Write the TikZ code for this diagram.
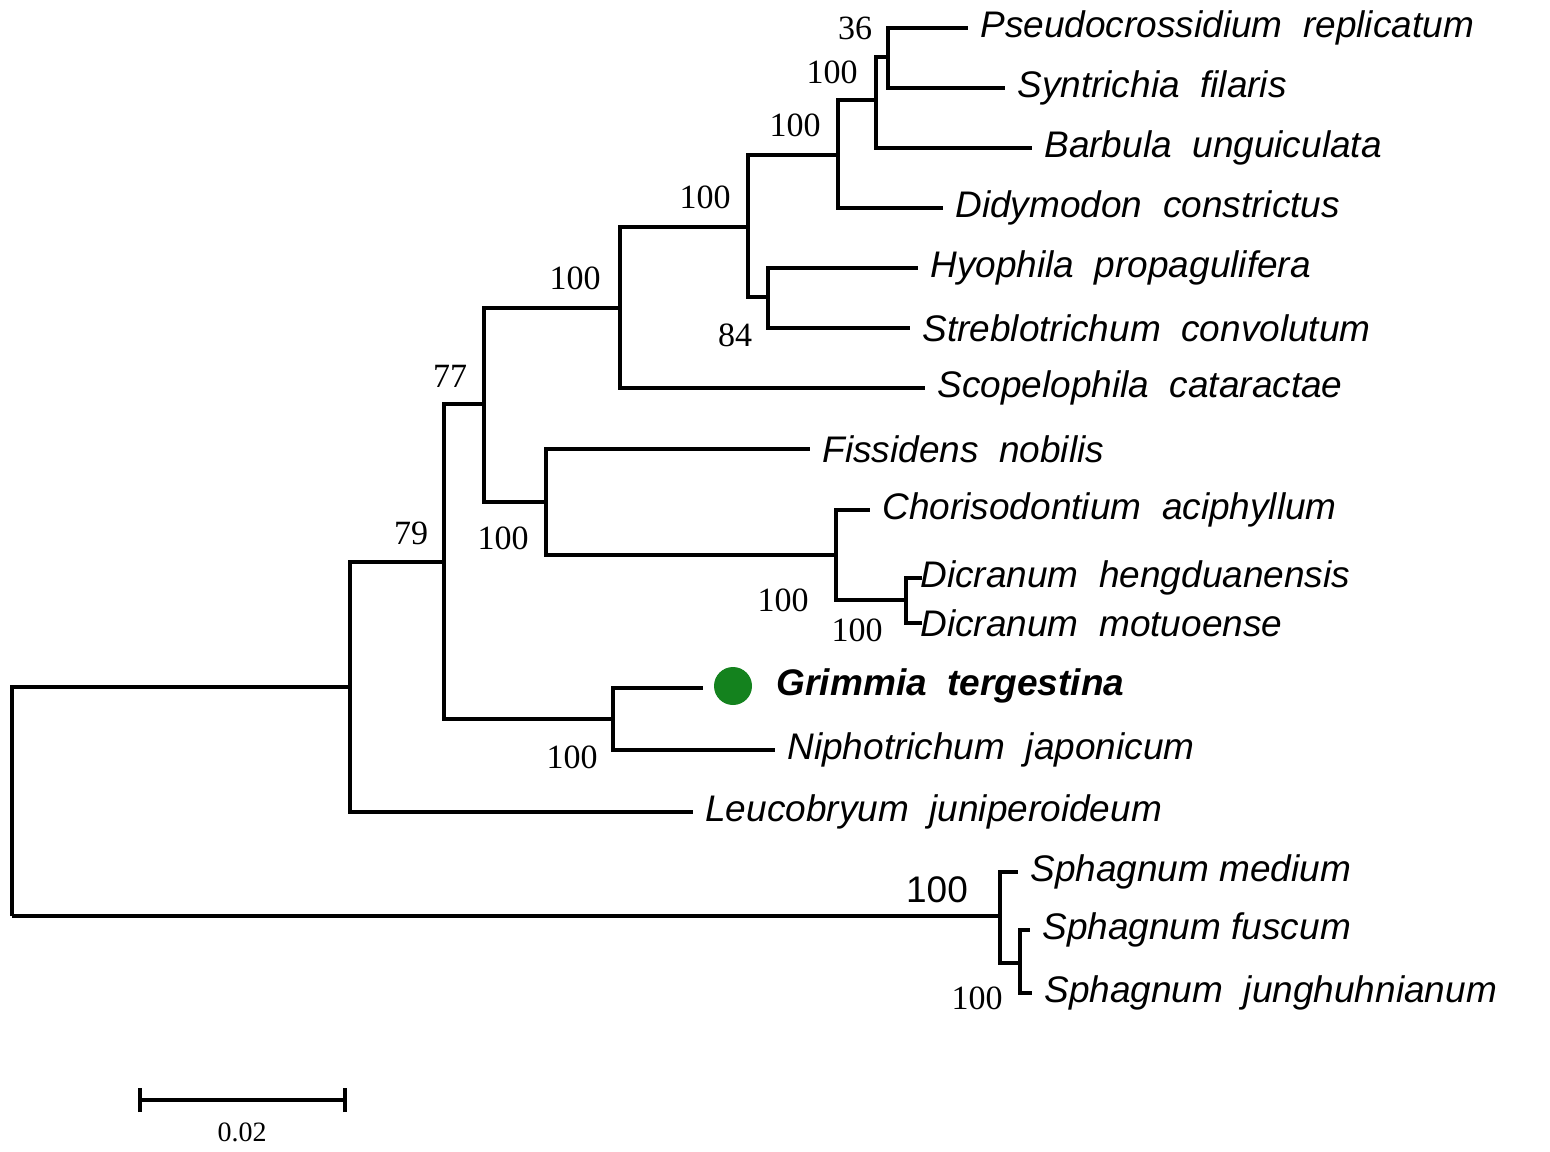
\documentclass[tikz,border=0pt]{standalone}
\usepackage{fontspec}
\setmainfont{Liberation Serif}
\newfontfamily\taxfont{Liberation Sans}
\usetikzlibrary{positioning}
\definecolor{dotgreen}{RGB}{20,130,30}
\begin{document}
\begin{tikzpicture}[x=0.5pt,y=-0.5pt,
  branch/.style={line width=1.6pt},
  taxon/.style={anchor=west,inner xsep=6pt,inner ysep=0pt,font=\taxfont\itshape\fontsize{18.5}{20}\selectfont},
  boot/.style={font=\fontsize{17}{18}\selectfont,inner sep=0pt}]
\useasboundingbox (0,0) rectangle (1550,1151);
% internal nodes
\coordinate (root) at (12,916);
\coordinate (ingroup) at (350,687);
\coordinate (n79) at (444,562);
\coordinate (n77) at (484,404);
\coordinate (n100a) at (620,308);
\coordinate (n100b) at (748,227);
\coordinate (n100c) at (838,155);
\coordinate (n100d) at (876,100);
\coordinate (n36) at (888,57);
\coordinate (n84) at (768,297);
\coordinate (n100e) at (546,502);
\coordinate (n100f) at (836,555);
\coordinate (n100g) at (906,600);
\coordinate (n100h) at (613,719);
\coordinate (sph) at (1000,916);
\coordinate (sph2) at (1020,963);
% leaves
\node[taxon] (pse) at (968,28) {Pseudocrossidium~~replicatum};
\node[taxon] (syn) at (1005,88) {Syntrichia~~filaris};
\node[taxon] (bar) at (1032,148) {Barbula~~unguiculata};
\node[taxon] (did) at (943,208) {Didymodon~~constrictus};
\node[taxon] (hyo) at (918,268) {Hyophila~~propagulifera};
\node[taxon] (str) at (910,328) {Streblotrichum~~convolutum};
\node[taxon] (sco) at (925,388) {Scopelophila~~cataractae};
\node[taxon] (fis) at (810,449) {Fissidens~~nobilis};
\node[taxon] (cho) at (870,510) {Chorisodontium~~aciphyllum};
\node[taxon,inner xsep=1pt] (dih) at (918,578) {Dicranum~~hengduanensis};
\node[taxon,inner xsep=1pt] (dim) at (918,623) {Dicranum~~motuoense};
\node[circle,fill=dotgreen,minimum size=19pt,inner sep=0pt] (dot) at (733,686) {};
\node[taxon,font=\taxfont\bfseries\itshape\fontsize{18.5}{20}\selectfont,right=12pt of dot,inner xsep=0pt] (gri) {Grimmia~~tergestina};
\coordinate (grl) at (703,688);
\node[taxon] (nip) at (775,750) {Niphotrichum~~japonicum};
\node[taxon] (leu) at (693,812) {Leucobryum~~juniperoideum};
\node[taxon] (sme) at (1018,872) {Sphagnum medium};
\node[taxon] (sfu) at (1030,930) {Sphagnum fuscum};
\node[taxon] (sju) at (1032,993) {Sphagnum~~junghuhnianum};
% branches
\draw[branch] (root) |- (ingroup) (root) |- (sph)
  (ingroup) |- (n79) (ingroup) |- (leu.west)
  (n79) |- (n77) (n79) |- (n100h)
  (n77) |- (n100a) (n77) |- (n100e)
  (n100a) |- (n100b) (n100a) |- (sco.west)
  (n100b) |- (n100c) (n100b) |- (n84)
  (n100c) |- (n100d) (n100c) |- (did.west)
  (n100d) |- (n36) (n100d) |- (bar.west)
  (n36) |- (pse.west) (n36) |- (syn.west)
  (n84) |- (hyo.west) (n84) |- (str.west)
  (n100e) |- (fis.west) (n100e) |- (n100f)
  (n100f) |- (cho.west) (n100f) |- (n100g)
  (n100g) |- ([xshift=2pt]dih.west) (n100g) |- ([xshift=2pt]dim.west)
  (n100h) |- (grl) (n100h) |- (nip.west)
  (sph) |- (sme.west) (sph) |- (sph2)
  (sph2) |- (sfu.west) (sph2) |- (sju.west);
% bootstrap values
\node[boot] at (855,28) {36};
\node[boot] at (832,72) {100};
\node[boot] at (795,125) {100};
\node[boot] at (705,197) {100};
\node[boot] at (575,278) {100};
\node[boot] at (735,335) {84};
\node[boot] at (450,376) {77};
\node[boot] at (411,533) {79};
\node[boot] at (503,538) {100};
\node[boot] at (783,600) {100};
\node[boot] at (857,630) {100};
\node[boot] at (572,757) {100};
\node[boot,font=\taxfont\fontsize{18.5}{20}\selectfont] at (937,890) {100};
\node[boot] at (977,998) {100};
% scale bar
\coordinate (sb1) at (140,1100);
\coordinate (sb2) at (345,1100);
\draw[branch] (sb1) -- (sb2) ([yshift=-6pt]sb1) -- ([yshift=6pt]sb1) ([yshift=-6pt]sb2) -- ([yshift=6pt]sb2);
\node[boot,font=\fontsize{14}{15}\selectfont] at (242,1132) {0.02};
\end{tikzpicture}
\end{document}
